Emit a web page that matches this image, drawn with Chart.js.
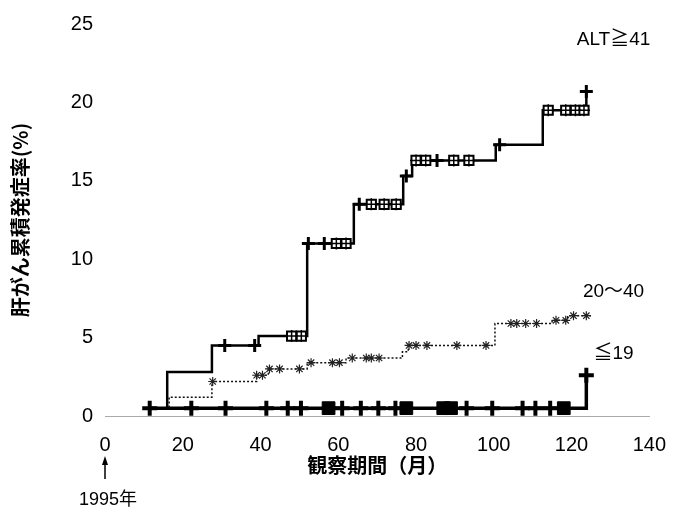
<!DOCTYPE html>
<html>
<head>
<meta charset="utf-8">
<script src="https://cdn.jsdelivr.net/npm/chart.js@4.4.1/dist/chart.umd.min.js"></script>
<style>
  html, body { margin: 0; padding: 0; background: #fff; }
</style>
</head>
<body>
<canvas id="kmChart" width="683" height="520"></canvas>
<script>
// Step points of each curve (month, cumulative %)
const altHighMonths = [11.5, 16, 27.5, 39.5, 52, 64, 76.7, 79, 100.5, 112.6, 123.8];
const altHighRates  = [0.5, 2.8, 4.5, 5.1, 11.0, 13.5, 15.3, 16.3, 17.3, 19.5, 20.7];
const altMidMonths  = [11.5, 16.5, 27.5, 39, 42, 52, 62, 76.5, 78, 100.3, 115, 119, 125];
const altMidRates   = [0.5, 1.2, 2.2, 2.6, 3.0, 3.4, 3.7, 4.1, 4.5, 5.9, 6.1, 6.4, 6.4];
const altLowMonths  = [11.5, 123.8];
const altLowRates   = [0.5, 2.6];

// Censored cases (month)
const altHighCross = [30.8, 38.5, 52.3, 56.4, 65.4, 77.5, 85.4, 101.5, 123.8];
const altHighBox   = [48, 50.5, 59.5, 62, 68.5, 71.8, 74.9, 80, 82.5, 89.7, 93.6, 114, 118.5, 121, 123.2];
const altMidMarks  = [27.7, 39, 40.5, 42.3, 44.9, 50, 53, 58.5, 60.3, 63.6, 67.2, 68.5, 70.5,
                      78.2, 80, 82.8, 90.5, 98, 104.4, 105.9, 108.2, 111, 116, 118.5, 120.5, 123.8];
const altLowCross  = [11.5, 22.2, 31, 41.5, 47, 50.4, 61, 65.8, 70.3, 74.7, 93, 99.6, 107.4, 110.7, 114.5];
const altLowBlock  = [57.5, 77.5, 87, 89, 118];

const seriesNames = ['ALT≧41', '20～40', '≦19'];
const yTicks = [0, 5, 10, 15, 20, 25];
const xTicks = [0, 20, 40, 60, 80, 100, 120, 140];

function toPoints(months, rates) {
  return months.map((m, i) => ({ x: m, y: rates[i] }));
}
// value of a step curve at month t
function rateAt(months, rates, t) {
  let r = rates[0];
  months.forEach((m, i) => { if (m <= t) r = rates[i]; });
  return r;
}
function marks(times, months, rates) {
  return times.map(t => ({ x: t, y: rateAt(months, rates, t) }));
}
// last point of a curve (end marker)
function lastPoint(months, rates) {
  return [{ x: months[months.length - 1], y: rates[rates.length - 1] }];
}

const numFont = { family: "'Liberation Sans', Arial, sans-serif", size: 20 };

// series names next to curve ends, and the 1995 start arrow
const annotations = {
  id: 'annotations',
  afterDraw(chart) {
    const { ctx, scales: { x, y } } = chart;
    ctx.save();
    ctx.fillStyle = '#000';
    ctx.font = "19px 'Liberation Sans', 'Noto Sans CJK JP', sans-serif";
    ctx.textAlign = 'center';
    ctx.textBaseline = 'middle';
    const pos = [[130.8, 24.0], [130.8, 7.9], [130.8, 4.0]];
    seriesNames.forEach((name, i) => {
      ctx.fillText(name, x.getPixelForValue(pos[i][0]), y.getPixelForValue(pos[i][1]));
    });
    // arrow at month 0
    const ax = x.getPixelForValue(0);
    ctx.strokeStyle = '#000';
    ctx.lineWidth = 1.5;
    ctx.beginPath();
    ctx.moveTo(ax, 479);
    ctx.lineTo(ax, 461);
    ctx.stroke();
    ctx.beginPath();
    ctx.moveTo(ax, 456);
    ctx.lineTo(ax - 3, 465);
    ctx.lineTo(ax + 3, 465);
    ctx.closePath();
    ctx.fill();
    ctx.font = "18px 'Liberation Sans', 'Noto Sans CJK JP', sans-serif";
    ctx.fillText('1995年', ax + 3, 500);
    ctx.restore();
  }
};

new Chart(document.getElementById('kmChart'), {
  type: 'line',
  data: {
    datasets: [
      // censor marks first so they sit on top of the lines
      {
        data: marks(altLowCross, altLowMonths, altLowRates).concat(lastPoint(altLowMonths, altLowRates)),
        showLine: false, pointStyle: 'cross', pointRadius: 7.5,
        borderColor: '#000', borderWidth: 4
      },
      {
        data: marks(altLowBlock, altLowMonths, altLowRates),
        showLine: false, pointStyle: 'rect', pointRadius: 9,
        backgroundColor: '#000', borderColor: '#000', borderWidth: 1
      },
      {
        data: marks(altHighCross, altHighMonths, altHighRates),
        showLine: false, pointStyle: 'cross', pointRadius: 6.5,
        borderColor: '#000', borderWidth: 3
      },
      {
        data: marks(altHighBox, altHighMonths, altHighRates),
        showLine: false, pointStyle: 'cross', pointRadius: 6,
        borderColor: '#000', borderWidth: 1.5
      },
      {
        data: marks(altHighBox, altHighMonths, altHighRates),
        showLine: false, pointStyle: 'rect', pointRadius: 6.5,
        backgroundColor: '#fff', borderColor: '#000', borderWidth: 2
      },
      {
        data: marks(altMidMarks, altMidMonths, altMidRates),
        showLine: false, pointStyle: 'star', pointRadius: 4.5,
        borderColor: '#222', borderWidth: 1.2
      },
      // curves
      {
        label: seriesNames[0],
        data: toPoints(altHighMonths, altHighRates),
        stepped: 'before', borderColor: '#000', borderWidth: 2.5, pointRadius: 0
      },
      {
        label: seriesNames[1],
        data: toPoints(altMidMonths, altMidRates),
        stepped: 'before', borderColor: '#111', borderWidth: 1.5, borderDash: [2, 2], pointRadius: 0
      },
      {
        label: seriesNames[2],
        data: toPoints(altLowMonths, altLowRates),
        stepped: 'before', borderColor: '#000', borderWidth: 3.5, pointRadius: 0
      }
    ]
  },
  options: {
    responsive: false,
    animation: false,
    layout: { padding: { top: 22, right: 32, left: 0, bottom: 0 } },
    plugins: {
      legend: { display: false },
      tooltip: { enabled: false }
    },
    scales: {
      x: {
        type: 'linear', min: 0, max: 140,
        afterBuildTicks: s => { s.ticks = xTicks.map(v => ({ value: v })); },
        afterFit: s => { s.height = 104; },
        ticks: { font: numFont, color: '#000', padding: 17 },
        grid: { display: false, drawTicks: false },
        border: { display: true, color: '#aaa', dash: [1, 3], width: 1 },
        title: { display: true, text: '観察期間（月）', font: { family: "'Noto Sans CJK JP', sans-serif", size: 20, weight: 'bold' }, color: '#000', padding: { top: 4, bottom: 43 } }
      },
      y: {
        min: 0, max: 25,
        afterBuildTicks: s => { s.ticks = yTicks.map(v => ({ value: v })); },
        afterFit: s => { s.width = 105; },
        ticks: { font: numFont, color: '#000', padding: 12 },
        grid: { display: false, drawTicks: false },
        border: { display: false },
        title: { display: true, text: '肝がん累積発症率(%)', font: { family: "'Noto Sans CJK JP', sans-serif", size: 20, weight: 'bold' }, color: '#000', padding: { top: 8, bottom: 0 } }
      }
    }
  },
  plugins: [annotations]
});
</script>
</body>
</html>
